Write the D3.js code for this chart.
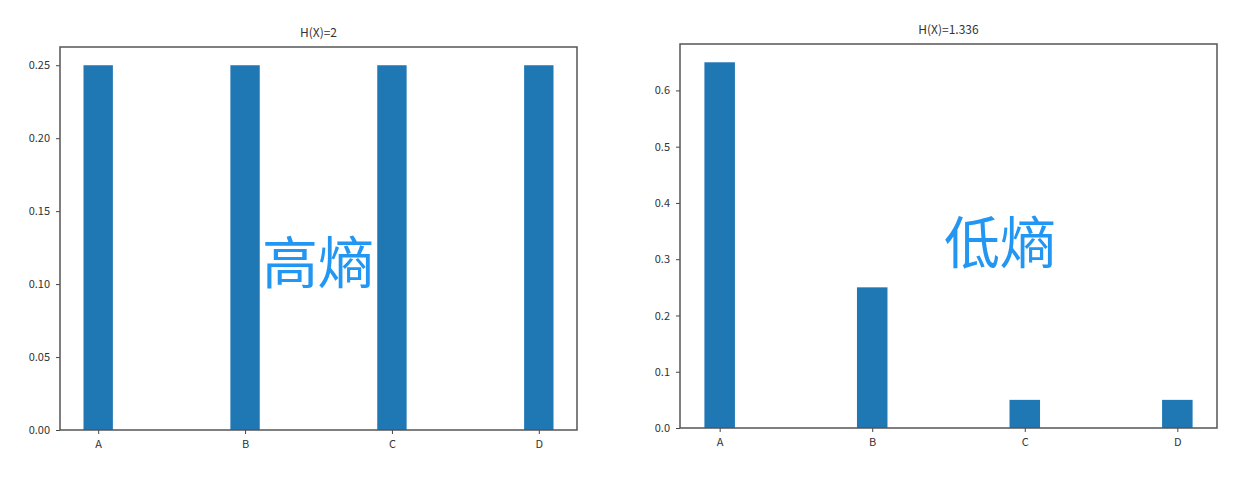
<!DOCTYPE html>
<html>
<head>
<meta charset="utf-8">
<script src="https://cdn.jsdelivr.net/npm/d3@7"></script>
<style>
  body { margin: 0; background: #fff; }
  svg text { font-family: "Noto Sans CJK SC", "DejaVu Sans", sans-serif; }
</style>
</head>
<body>
<svg width="1259" height="497"></svg>
<script>
var categories = ["A", "B", "C", "D"];
var highValues = [0.25, 0.25, 0.25, 0.25];
var lowValues = [0.65, 0.25, 0.05, 0.05];
var highTicks = [0, 0.05, 0.10, 0.15, 0.20, 0.25];
var lowTicks = [0, 0.1, 0.2, 0.3, 0.4, 0.5, 0.6];
var titles = ["H(X)=2", "H(X)=1.336"];
var labels = ["高熵", "低熵"];

var svg = d3.select("svg");

// matplotlib-style bar chart: bar width 0.2, 5% margins
function drawPanel(box, values, ticks, fmt, title, label, labelPos) {
  var g = svg.append("g");
  var x = d3.scaleLinear()
      .domain([-0.26, categories.length - 1 + 0.26])
      .range([box.left, box.right]);
  var ymax = d3.max(values) * 1.05;
  var y = d3.scaleLinear()
      .domain([0, ymax])
      .range([box.bottom, box.top]);
  var bw = x(0.2) - x(0);

  g.selectAll("rect.bar")
    .data(values)
    .enter().append("rect")
      .attr("class", "bar")
      .attr("x", function(d, i) { return x(i) - bw / 2; })
      .attr("y", function(d) { return y(d); })
      .attr("width", bw)
      .attr("height", function(d) { return y(0) - y(d); })
      .attr("fill", "#1f77b4");

  var yAxis = g.append("g")
      .attr("transform", "translate(" + box.left + ",0)")
      .call(d3.axisLeft(y).tickValues(ticks).tickFormat(fmt).tickSize(4).tickPadding(6));
  var xAxis = g.append("g")
      .attr("transform", "translate(0," + box.bottom + ")")
      .call(d3.axisBottom(x).tickValues(d3.range(categories.length))
        .tickFormat(function(i) { return categories[i]; }).tickSize(4).tickPadding(6));
  [yAxis, xAxis].forEach(function(a) {
    a.select(".domain").remove();
    a.selectAll("line").attr("stroke", "#444");
    a.selectAll("text").attr("fill", "#333").style("font-size", "11px");
  });

  g.append("rect")
    .attr("x", box.left).attr("y", box.top)
    .attr("width", box.right - box.left)
    .attr("height", box.bottom - box.top)
    .attr("fill", "none")
    .attr("stroke", "#555")
    .attr("stroke-width", 1.5);

  g.append("text")
    .attr("x", (box.left + box.right) / 2)
    .attr("y", box.top - 10)
    .attr("text-anchor", "middle")
    .attr("fill", "#333")
    .style("font-size", "12px")
    .text(title);

  g.append("text")
    .attr("x", labelPos[0])
    .attr("y", labelPos[1])
    .attr("text-anchor", "middle")
    .attr("dominant-baseline", "central")
    .attr("fill", "#2196f3")
    .style("font-size", "56px")
    .text(label);
}

drawPanel({left: 60, right: 577, top: 47, bottom: 430}, highValues, highTicks,
  d3.format(".2f"), titles[0], labels[0], [318, 258]);
drawPanel({left: 680, right: 1217, top: 44, bottom: 428}, lowValues, lowTicks,
  d3.format(".1f"), titles[1], labels[1], [1000, 238]);
</script>
</body>
</html>
